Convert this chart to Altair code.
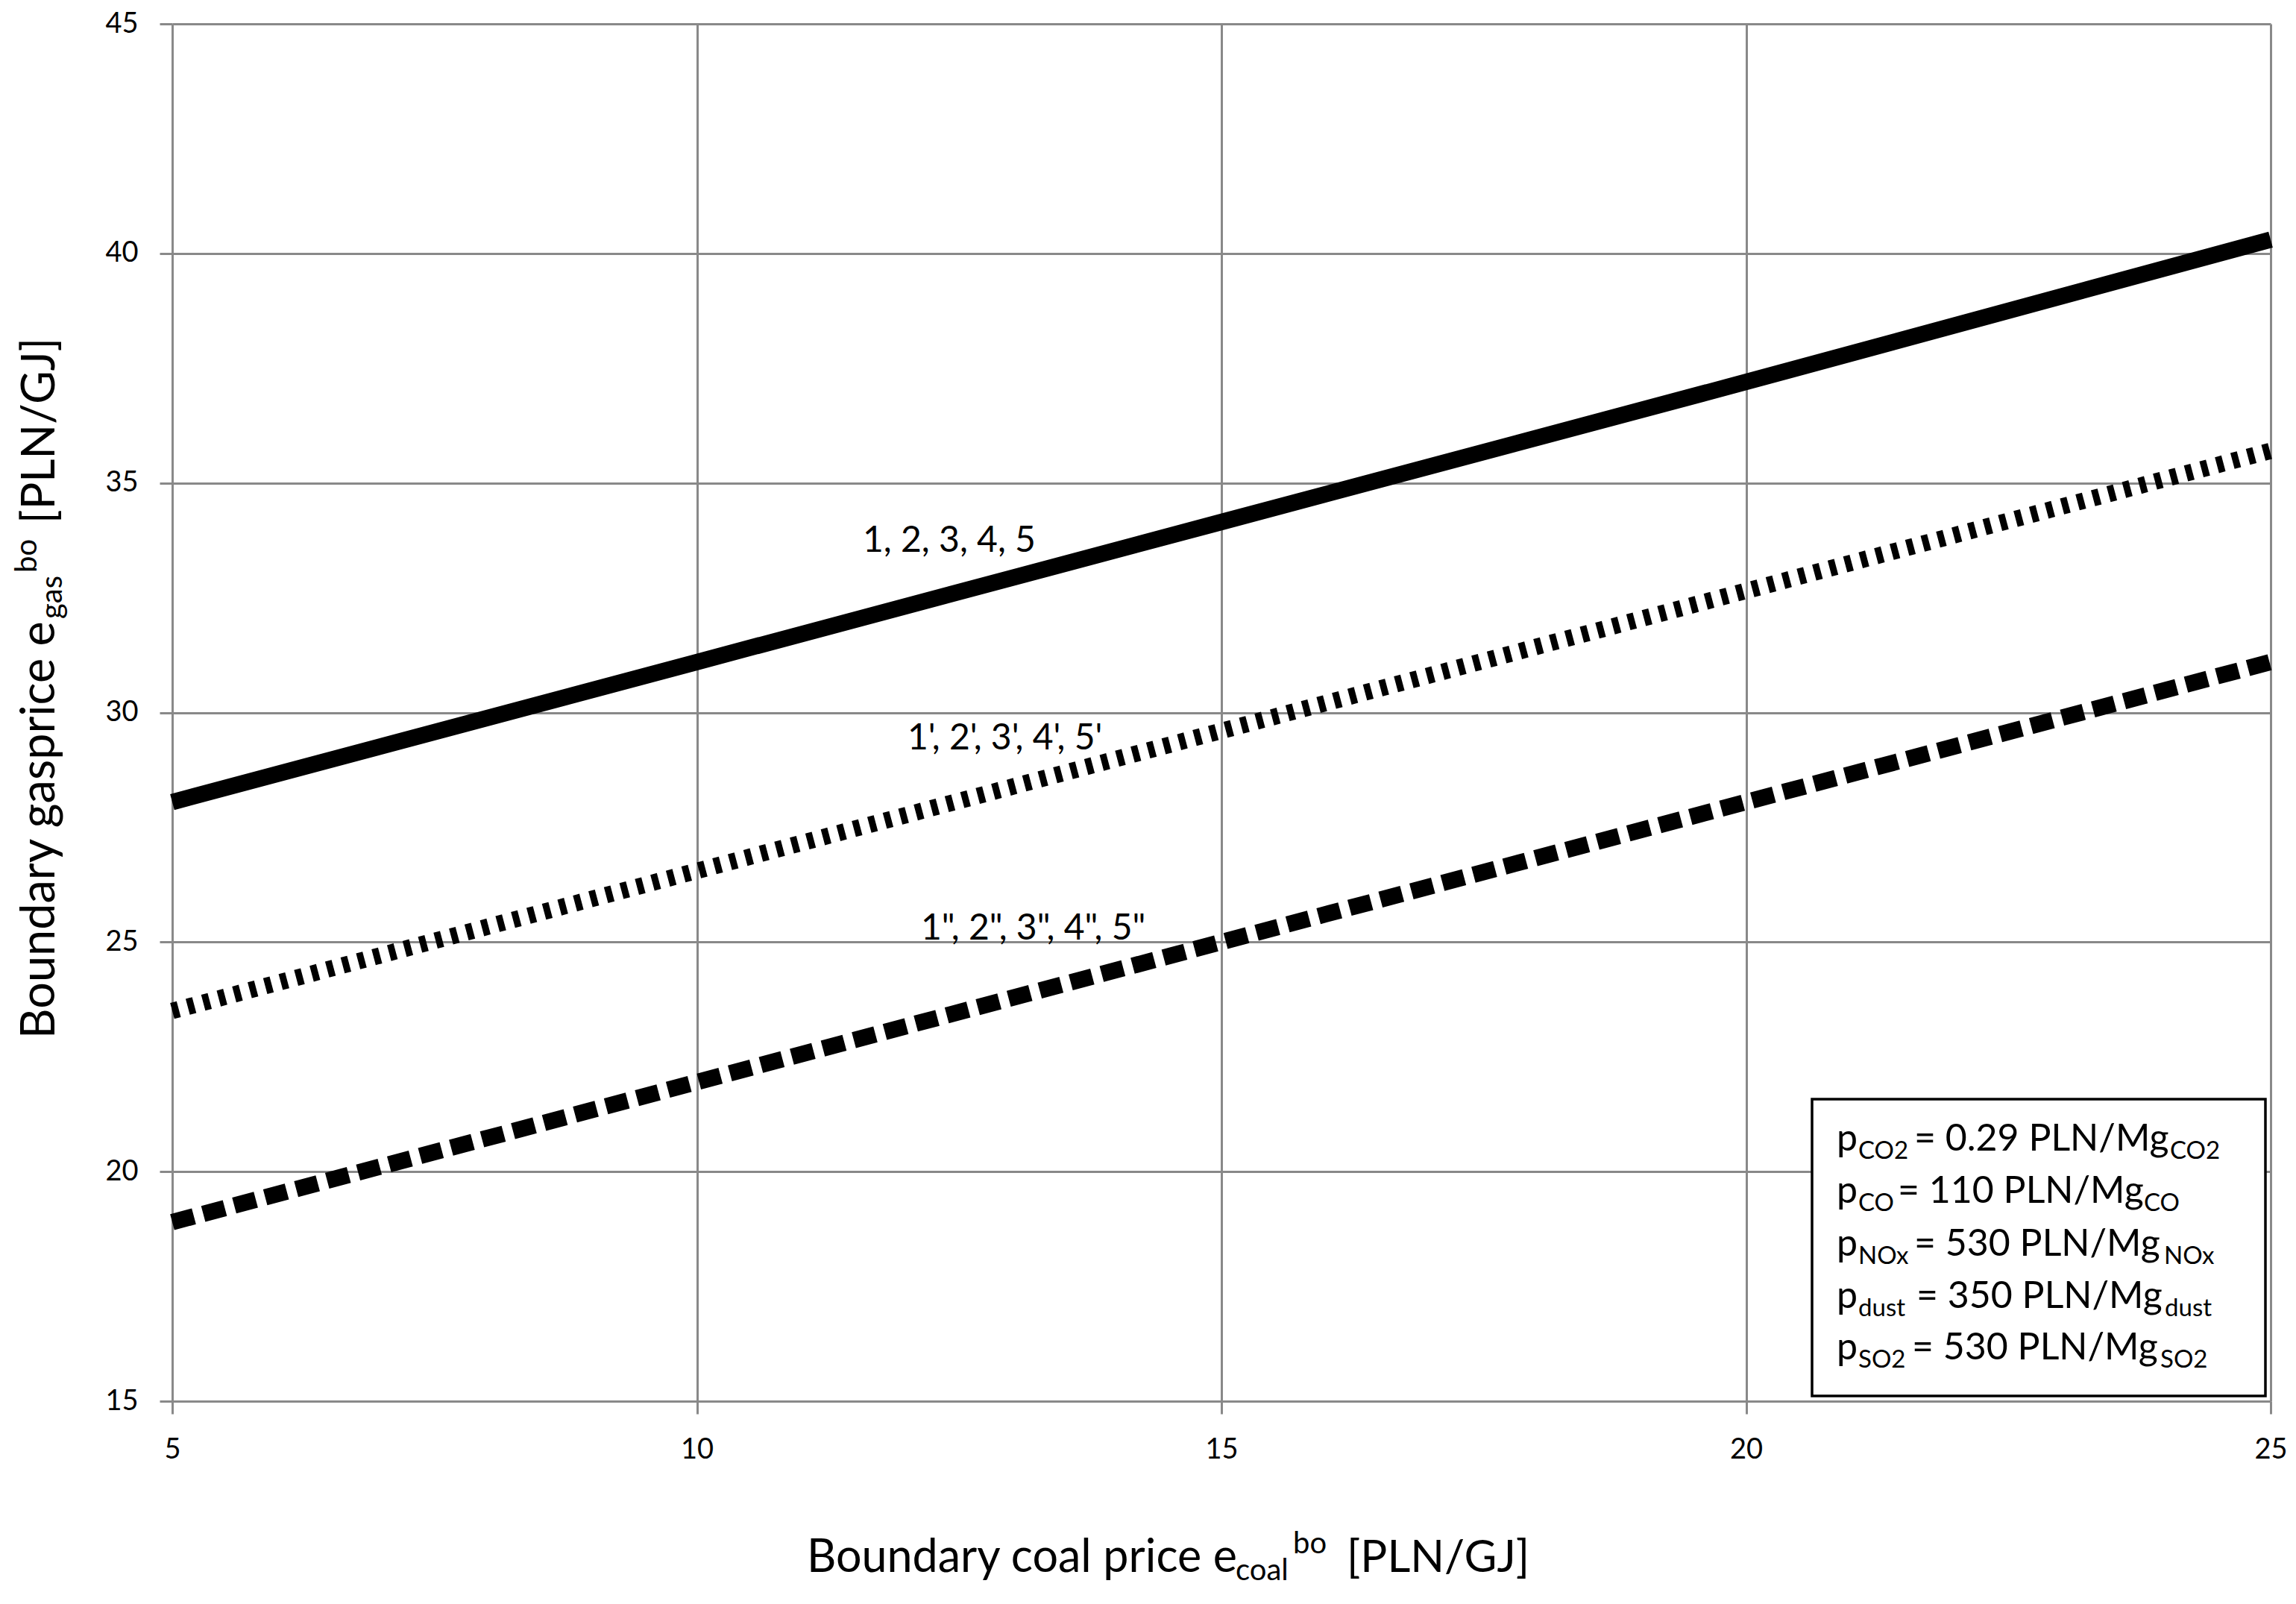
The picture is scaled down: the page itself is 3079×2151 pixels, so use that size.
import altair as alt
import pandas as pd

# ---------------- data ----------------
coal_price = [5, 10, 15, 20, 25]
gas_solid = [28.05, 31.1, 34.15, 37.2, 40.3]     # 1, 2, 3, 4, 5
gas_dotted = [23.5, 26.55, 29.6, 32.65, 35.7]    # 1', 2', ...
gas_dashed = [18.9, 21.95, 25.0, 28.05, 31.1]    # 1", 2", ...
series_labels = ["1, 2, 3, 4, 5", "1', 2', 3', 4', 5'", '1", 2", 3", 4", 5"']
x_ticks = [5, 10, 15, 20, 25]
y_ticks = [15, 20, 25, 30, 35, 40, 45]
pollutants = ["CO2", "CO", "NOx", "dust", "SO2"]
prices = ["0.29", "110", "530", "350", "530"]

# ---------------- layout (page pixels -> data coords) ----------------
W, H = 2814, 1847
LEFT, TOP = 231, 32
BOTTOM = TOP + H


def dx(px):
    return 5 + (px - LEFT) / W * 20


def dy(py):
    return 15 + (BOTTOM - py) / H * 30


lines_df = pd.DataFrame({
    "x": coal_price * 3,
    "y": gas_solid + gas_dotted + gas_dashed,
    "s": ["solid"] * 5 + ["dotted"] * 5 + ["dashed"] * 5,
})

texts = []
# series annotations
for lab, px, py in zip(series_labels, [1157, 1217, 1235], [740, 1005, 1260]):
    texts.append((lab, dx(px), dy(py), 48, 0))

# x axis title
xb = 2108
texts += [
    ("Boundary coal price e", dx(1082), dy(xb), 61, 0),
    ("coal", dx(1657), dy(xb + 11), 40, 0),
    ("bo", dx(1734), dy(xb - 25), 40, 0),
    ("[PLN/GJ]", dx(1806), dy(xb), 60, 0),
]
# y axis title (rotated)
yb = 73
texts += [
    ("Boundary gasprice e", dx(yb), dy(1393), 63, 270),
    ("gas", dx(yb + 10), dy(830), 40, 270),
    ("bo", dx(yb - 24), dy(768), 40, 270),
    ("[PLN/GJ]", dx(yb), dy(702), 61, 270),
]
# legend box text
baselines = [1543, 1613, 1684, 1754, 1823]
main_start = [2567, 2545, 2567, 2570, 2564]
sub2_start = [2910, 2875, 2902, 2903, 2897]
for pol, pr, b, ms, s2 in zip(pollutants, prices, baselines, main_start, sub2_start):
    texts += [
        ("p", dx(2463), dy(b), 50, 0),
        (pol, dx(2492), dy(b + 11), 33, 0),
        ("= " + pr + " PLN/Mg", dx(ms), dy(b), 50, 0),
        (pol, dx(s2), dy(b + 11), 33, 0),
    ]
text_df = pd.DataFrame(texts, columns=["t", "x", "y", "size", "angle"])

box_df = pd.DataFrame({"x": [dx(2430)], "x2": [dx(3038)], "y": [dy(1474)], "y2": [dy(1872)]})

GRID = "#898989"
xscale = alt.Scale(domain=[5, 25], nice=False, zero=False)
yscale = alt.Scale(domain=[15, 45], nice=False, zero=False)
axis_common = dict(grid=True, gridColor=GRID, gridWidth=3, domainColor=GRID, domainWidth=3,
                   tickColor=GRID, tickWidth=3, tickSize=17, labelFont="Lato", format="d",
                   labelFontSize=38, labelColor="black", title=None, labelFlush=False)

base = alt.Chart(lines_df)
x_enc = alt.X("x:Q", scale=xscale, axis=alt.Axis(values=x_ticks, labelPadding=29, **axis_common))
y_enc = alt.Y("y:Q", scale=yscale, axis=alt.Axis(values=y_ticks, labelPadding=29, **axis_common))

solid = base.transform_filter(alt.datum.s == "solid").mark_line(
    color="black", strokeWidth=22, strokeCap="butt").encode(x=x_enc, y=y_enc)
dotted = base.transform_filter(alt.datum.s == "dotted").mark_line(
    color="black", strokeWidth=22, strokeCap="butt", strokeDash=[9, 12.5]).encode(x="x:Q", y="y:Q")
dashed = base.transform_filter(alt.datum.s == "dashed").mark_line(
    color="black", strokeWidth=22, strokeCap="butt", strokeDash=[30, 13]).encode(x="x:Q", y="y:Q")

box = alt.Chart(box_df).mark_rect(fill="white", stroke="black", strokeWidth=3.5).encode(
    x="x:Q", x2="x2:Q", y="y:Q", y2="y2:Q")

txt = alt.Chart(text_df).mark_text(font="Lato", align="left", baseline="alphabetic", color="black").encode(
    x="x:Q", y="y:Q", text="t:N",
    size=alt.Size("size:Q", scale=None),
    angle=alt.Angle("angle:Q", scale=None),
)

chart = alt.layer(solid, dotted, dashed, box, txt).properties(
    width=W, height=H,
    autosize=alt.AutoSizeParams(type="none"),
    padding={"left": LEFT - 8, "top": TOP - 8, "right": 26, "bottom": 250},
    background="white",
).configure_view(stroke=None)

chart.save("out.html", embed_options={"renderer": "svg", "actions": False})
